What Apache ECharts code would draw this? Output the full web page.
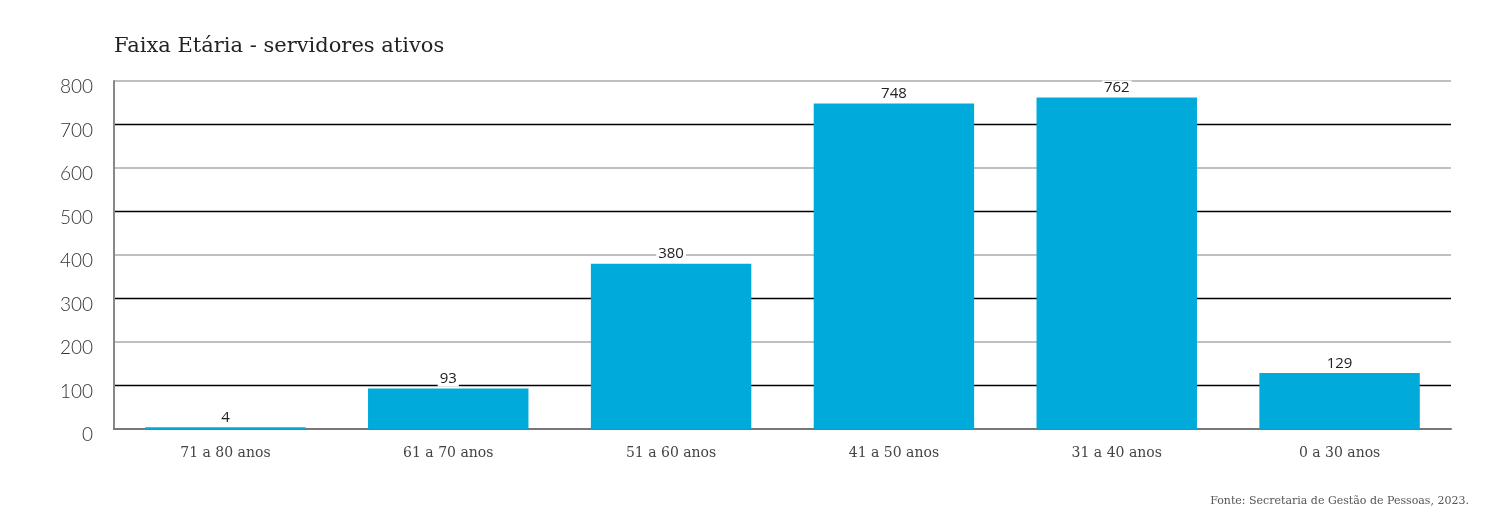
<!DOCTYPE html>
<html><head><meta charset="utf-8">
<script src="https://cdn.jsdelivr.net/npm/echarts@6/dist/echarts.min.js"></script>
<style>html,body{margin:0;padding:0;background:#fff}#c{width:1502px;height:518px}</style>
</head><body><div id="c"></div>
<script>
const categories = ['71 a 80 anos','61 a 70 anos','51 a 60 anos','41 a 50 anos','31 a 40 anos','0 a 30 anos'];
const values = [4, 93, 380, 748, 762, 129];
const titleText = 'Faixa Etária - servidores ativos';
const sourceText = 'Fonte: Secretaria de Gestão de Pessoas, 2023.';

const chart = echarts.init(document.getElementById('c'));
chart.setOption({
  animation: false,
  title: [
    {text: titleText, left: 109, top: 31, textStyle: {fontFamily: 'DejaVu Serif', fontWeight: 'normal', fontSize: 21, color: '#222'}},
    {text: sourceText, right: 28, top: 491, textStyle: {fontFamily: 'DejaVu Serif', fontWeight: 'normal', fontSize: 11, color: '#555'}}
  ],
  grid: {left: 114, right: 51, top: 81, bottom: 89, containLabel: false},
  xAxis: {
    type: 'category', data: categories,
    axisLine: {lineStyle: {color: '#777', width: 2}},
    axisTick: {show: false},
    axisLabel: {margin: 17, fontFamily: 'DejaVu Serif', fontSize: 14, color: '#444'}
  },
  yAxis: [
    {type: 'value', min: 0, max: 800, interval: 100,
     axisLine: {show: true, lineStyle: {color: '#888', width: 2}},
     axisTick: {show: false},
     axisLabel: {margin: 21, fontFamily: 'Lato', fontWeight: 300, fontSize: 19, color: '#333', verticalAlign: 'top', lineHeight: 12},
     splitLine: {show: true, lineStyle: {color: ['transparent', '#000'], width: 1.3}}},
    {type: 'value', min: 0, max: 800, interval: 200, position: 'left',
     axisLine: {show: false}, axisTick: {show: false}, axisLabel: {show: false},
     splitLine: {show: true, lineStyle: {color: '#c0c0c0', width: 2}}}
  ],
  series: [{
    type: 'bar', data: values, barCategoryGap: '28%', z: 3,
    itemStyle: {color: '#00abdc'},
    label: {show: true, position: 'top', distance: 2, fontFamily: 'Open Sans', fontSize: 15, color: '#222',
            backgroundColor: '#fff', padding: [0, 2]}
  }]
});
</script></body></html>
